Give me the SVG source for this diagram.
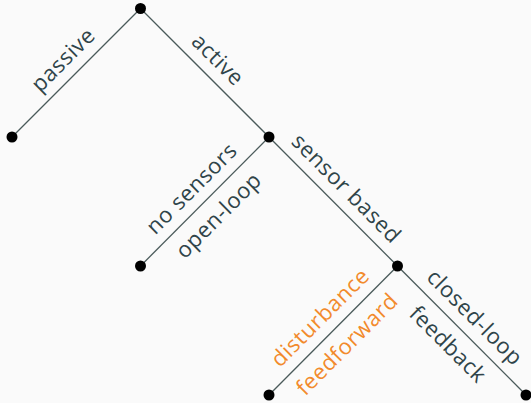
<svg xmlns="http://www.w3.org/2000/svg" width="531" height="403" viewBox="0 0 531 403">
  <style>
    .edge { stroke: #4a5a5a; stroke-width: 1.3; fill: none; }
    .dot { fill: #000; }
    .lbl { font-family: "Open Sans", "DejaVu Sans", sans-serif; font-size: 22px; letter-spacing: 0.6px; fill: #2f4449; text-anchor: middle; }
    .alt { fill: #f28a2c; }
  </style>
  <rect width="531" height="403" fill="#fafafa"/>
  <g id="connectors">
    <line class="edge" x1="140.5" y1="8.5" x2="12" y2="137"/>
    <line class="edge" x1="140.5" y1="8.5" x2="269" y2="137"/>
    <line class="edge" x1="269" y1="137" x2="140.5" y2="266"/>
    <line class="edge" x1="269" y1="137" x2="397.5" y2="266"/>
    <line class="edge" x1="397.5" y1="266" x2="269" y2="395"/>
    <line class="edge" x1="397.5" y1="266" x2="526" y2="395"/>
  </g>
  <g id="labels">
    <text class="lbl" transform="translate(76.25,72.75) rotate(-45)" y="-11">passive</text>
    <text class="lbl" transform="translate(204.75,72.75) rotate(45)" y="-11">active</text>
    <text class="lbl" transform="translate(204.75,201.5) rotate(-45)" y="-11">no sensors</text>
    <text class="lbl" transform="translate(204.75,201.5) rotate(-45)" y="27">open-loop</text>
    <text class="lbl" transform="translate(333.25,201.5) rotate(45)" y="-11">sensor based</text>
    <text class="lbl alt" transform="translate(333.25,330.5) rotate(-45)" y="-11">disturbance</text>
    <text class="lbl alt" transform="translate(333.25,330.5) rotate(-45)" y="27">feedforward</text>
    <text class="lbl" transform="translate(461.75,330.5) rotate(45)" y="-11">closed-loop</text>
    <text class="lbl" transform="translate(461.75,330.5) rotate(45)" y="27">feedback</text>
  </g>
  <g id="root"><circle class="dot" cx="140.5" cy="8.5" r="5.5"/></g>
  <g id="passive"><circle class="dot" cx="12" cy="137" r="5.5"/></g>
  <g id="active"><circle class="dot" cx="269" cy="137" r="5.5"/></g>
  <g id="open-loop"><circle class="dot" cx="140.5" cy="266" r="5.5"/></g>
  <g id="closed-loop"><circle class="dot" cx="397.5" cy="266" r="5.5"/></g>
  <g id="feedforward"><circle class="dot" cx="269" cy="395" r="5.5"/></g>
  <g id="feedback"><circle class="dot" cx="526" cy="395" r="5.5"/></g>
</svg>
